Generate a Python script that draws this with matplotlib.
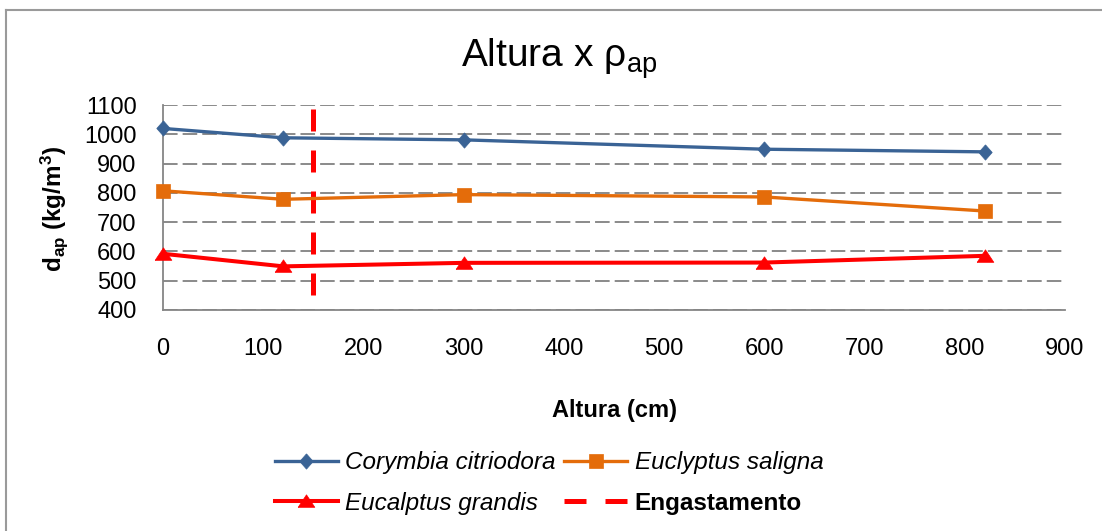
import matplotlib
matplotlib.use("Agg")
import matplotlib.pyplot as plt
from matplotlib.lines import Line2D

plt.rcParams['font.family'] = ['Liberation Sans', 'DejaVu Sans']
plt.rcParams['mathtext.fontset'] = 'custom'
plt.rcParams['mathtext.rm'] = 'Liberation Sans'
plt.rcParams['mathtext.bf'] = 'Liberation Sans:bold'
plt.rcParams['mathtext.it'] = 'Liberation Sans:italic'

# ---- data ----
alturas = [0, 120, 300, 600, 820]
corymbia = [1020, 988, 981, 949, 940]
saligna = [807, 778, 794, 786, 738]
grandis = [592, 549, 561, 562, 585]
engaste_x = 150
engaste_y = [450, 1100]
series_names = ['Corymbia citriodora', 'Euclyptus saligna', 'Eucalptus grandis', 'Engastamento']
xticks = [0, 100, 200, 300, 400, 500, 600, 700, 800, 900]
yticks = [400, 500, 600, 700, 800, 900, 1000, 1100]

W, H = 1102, 531
fig = plt.figure(figsize=(W / 100, H / 100), dpi=100)
fig.patch.set_facecolor('white')

ax_l, ax_r, ax_t, ax_b = 163, 1065, 105, 310
ax = fig.add_axes([ax_l / W, 1 - ax_b / H, (ax_r - ax_l) / W, (ax_b - ax_t) / H])

diamond = [(0, 1), (0.88, 0), (0, -1), (-0.88, 0), (0, 1)]
tri = [(-1, -0.7), (1, -0.7), (0, 0.8), (-1, -0.7)]

blue = '#3A6395'
orange = '#E46C0A'
red = '#FF0000'

l1, = ax.plot(alturas, corymbia, color=blue, lw=2.4, marker=diamond, ms=11,
              mec=blue, mfc=blue, mew=0.5, zorder=4, clip_on=False)
l2, = ax.plot(alturas, saligna, color=orange, lw=2.4, marker='s', ms=10,
              mec=orange, mfc=orange, mew=0.5, zorder=4, clip_on=False)
l3, = ax.plot(alturas, grandis, color=red, lw=2.9, marker=tri, ms=12,
              mec=red, mfc=red, mew=0.5, zorder=4, clip_on=False)
l4, = ax.plot([engaste_x, engaste_x], engaste_y, color=red, lw=3.6,
              dashes=(4.4, 3.8), zorder=3)

ax.set_xlim(0, 900)
ax.set_ylim(400, 1100)
ax.set_xticks(xticks)
ax.set_yticks(yticks)
ax.tick_params(axis='both', length=0, labelsize=17, colors='black')
ax.tick_params(axis='x', pad=20)
ax.tick_params(axis='y', pad=19)

for s in ['top', 'right']:
    ax.spines[s].set_visible(False)
for s in ['left', 'bottom']:
    ax.spines[s].set_color('#868686')
    ax.spines[s].set_linewidth(1.3)

ax.yaxis.grid(True, color='#8a8a8a', lw=1.4, linestyle=(0, (7.5, 2.6)))
ax.set_axisbelow(True)

# title
fig.text(559 / W, 1 - 67 / H, r'Altura x ρ$_\mathrm{ap}$', ha='center',
         va='baseline', fontsize=28)
# axis labels
fig.text(54 / W, 1 - 209 / H, r'$\mathbf{d_{ap}}$ (kg/m$^\mathbf{3}$)',
         rotation=90, ha='center', va='center', fontsize=17.5, fontweight='bold')
fig.text(614 / W, 1 - 410 / H, 'Altura (cm)', ha='center', va='center',
         fontsize=17, fontweight='bold')

# legend
leg = fig.legend([l1, l3, l2, l4],
                 [series_names[0], series_names[2], series_names[1], series_names[3]],
                 ncol=2, loc='center', bbox_to_anchor=(549 / W, 1 - 483 / H),
                 frameon=False, fontsize=17.5, handlelength=2.6, handletextpad=0.3,
                 columnspacing=0.35, labelspacing=0.7)
for t in leg.get_texts():
    if t.get_text() == 'Engastamento':
        t.set_fontweight('bold')
    else:
        t.set_fontstyle('italic')

# outer frame (top and left edges visible)
fig.add_artist(Line2D([6 / W, 1], [1 - 10 / H, 1 - 10 / H], transform=fig.transFigure,
                      color='#9a9a9a', lw=1.5))
fig.add_artist(Line2D([6 / W, 6 / W], [0, 1 - 10 / H], transform=fig.transFigure,
                      color='#9a9a9a', lw=1.5))

fig.savefig('out.png', dpi=100, facecolor='white')
